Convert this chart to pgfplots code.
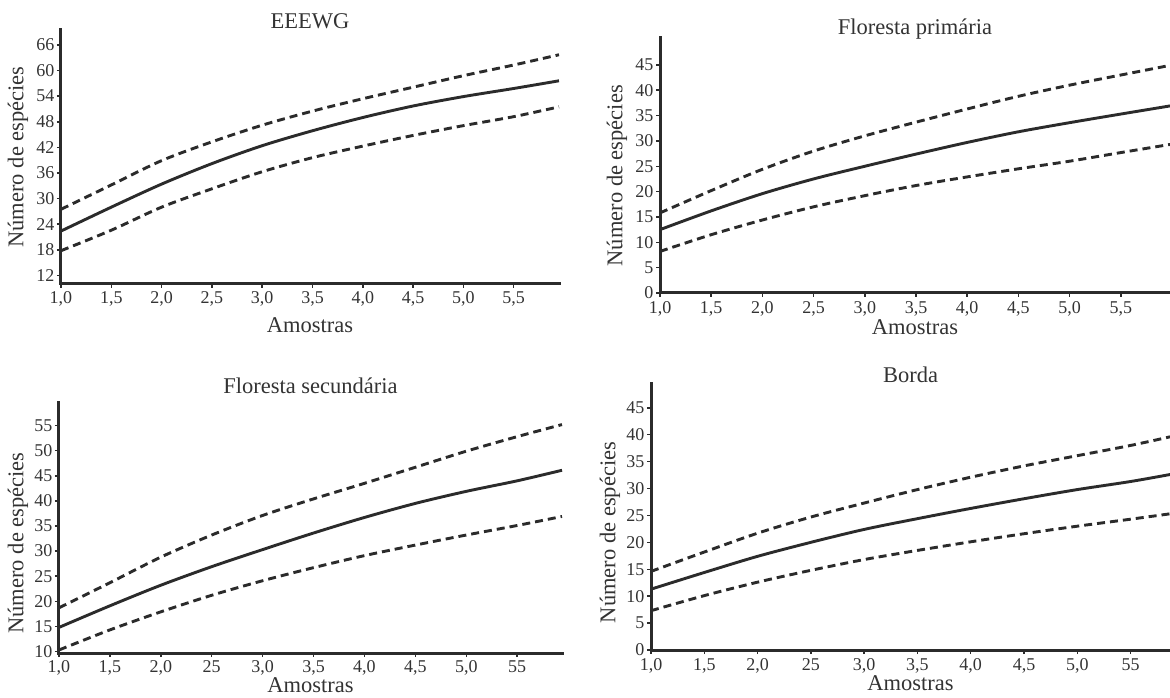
\documentclass[border=0pt]{standalone}
\usepackage{pgfplots}
\pgfplotsset{compat=1.18}
\usepackage{fontspec}
\setmainfont{Liberation Serif}
\definecolor{ink}{HTML}{2B2B2B}
\definecolor{txt}{HTML}{333333}
\newcommand{\lblfont}{\fontsize{22.5}{25}\selectfont}
\pgfplotsset{
  panel/.style={
    scale only axis, clip=false,
    axis lines=left,
    axis line style={-, line width=3pt, ink, line cap=rect},
    tick style={line width=1.5pt, ink},
    major tick length=4pt,
    tick align=outside,
    xmin=1,
    xtick={1,1.5,2,2.5,3,3.5,4,4.5,5,5.5},
    /pgf/number format/assume math mode=true,
    ticklabel style={font=\fontsize{18}{19}\selectfont, text=txt},
    yticklabel style={xshift=1pt},
    every axis title shift=0pt,
    xlabel={Amostras},
    ylabel={Número de espécies},
  },
  solidc/.style={ink, line width=2.9pt, smooth},
  dashc/.style={ink, line width=2.9pt, smooth, dash pattern=on 8pt off 5pt},
}
\begin{document}
\begin{tikzpicture}
\useasboundingbox (0,0) rectangle (1170pt,697pt);
% Panel 1: EEEWG
\begin{axis}[panel,
  at={(61pt,413pt)}, anchor=south west,
  width=498pt, height=254pt,
  xmax=5.95, ymin=10, ymax=69.5,
  ytick={12,18,24,30,36,42,48,54,60,66},
  xticklabels={{1,0},{1,5},{2,0},{2,5},{3,0},{3,5},{4,0},{4,5},{5,0},{5,5}},
  title={EEEWG},
  every axis title/.style={at={(rel axis cs:0.5,1)}, anchor=base, yshift=1pt, font=\lblfont, text=txt},
  every axis x label/.style={at={(rel axis cs:0.5,0)}, anchor=center, yshift=-41pt, font=\lblfont, text=txt},
  every axis y label/.style={at={(rel axis cs:0,0.5)}, xshift=-43pt, rotate=90, anchor=center, font=\lblfont, text=txt},
]
\addplot[dashc] coordinates {(1,27.5)(1.5,33.2)(2,38.9)(2.5,43.3)(3,47.2)(3.5,50.5)(4,53.4)(4.5,56.1)(5,58.8)(5.5,61.3)(5.95,63.7)};
\addplot[solidc] coordinates {(1,22.4)(1.5,28.0)(2,33.4)(2.5,38.2)(3,42.4)(3.5,45.9)(4,49.0)(4.5,51.7)(5,53.9)(5.5,55.8)(5.95,57.6)};
\addplot[dashc] coordinates {(1,17.8)(1.5,22.6)(2,28.0)(2.5,32.3)(3,36.3)(3.5,39.6)(4,42.3)(4.5,44.8)(5,47.1)(5.5,49.2)(5.95,51.5)};
\end{axis}
% Panel 2: Floresta primaria
\begin{axis}[panel,
  at={(660pt,404pt)}, anchor=south west,
  width=510pt, height=255pt,
  xmax=5.98, ymin=0, ymax=50.3,
  ytick={0,5,10,15,20,25,30,35,40,45},
  xticklabels={{1,0},{1,5},{2,0},{2,5},{3,0},{3,5},{4,0},{4,5},{5,0},{5,5}},
  xticklabel style={yshift=-1pt},
  title={Floresta primária},
  every axis title/.style={at={(rel axis cs:0.5,1)}, anchor=base, yshift=3pt, font=\lblfont, text=txt},
  every axis x label/.style={at={(rel axis cs:0.5,0)}, anchor=center, yshift=-34pt, font=\lblfont, text=txt},
  every axis y label/.style={at={(rel axis cs:0,0.46)}, xshift=-43pt, rotate=90, anchor=center, font=\lblfont, text=txt},
]
\addplot[dashc] coordinates {(1,15.8)(1.5,20.2)(2,24.4)(2.5,28.0)(3,31.0)(3.5,33.7)(4,36.3)(4.5,38.8)(5,41.0)(5.5,43.0)(5.98,44.9)};
\addplot[solidc] coordinates {(1,12.5)(1.5,16.2)(2,19.6)(2.5,22.5)(3,25.0)(3.5,27.4)(4,29.7)(4.5,31.8)(5,33.6)(5.5,35.3)(5.98,36.9)};
\addplot[dashc] coordinates {(1,8.2)(1.5,11.5)(2,14.4)(2.5,17.0)(3,19.2)(3.5,21.2)(4,22.9)(4.5,24.5)(5,26.0)(5.5,27.7)(5.98,29.3)};
\end{axis}
% Panel 3: Floresta secundaria
\begin{axis}[panel,
  at={(59pt,44pt)}, anchor=south west,
  width=503pt, height=250pt,
  xmax=5.94, ymin=9.7, ymax=59.5,
  ytick={10,15,20,25,30,35,40,45,50,55},
  xticklabels={{1,0},{1,5},{2,0},{25},{3,0},{3,5},{4,0},{4,5},{5,0},{55}},
  title={Floresta secundária},
  every axis title/.style={at={(rel axis cs:0.5,1)}, anchor=base, yshift=9pt, font=\lblfont, text=txt},
  every axis x label/.style={at={(rel axis cs:0.5,0)}, anchor=center, yshift=-32pt, font=\lblfont, text=txt},
  every axis y label/.style={at={(rel axis cs:0,0.44)}, xshift=-41pt, rotate=90, anchor=center, font=\lblfont, text=txt},
]
\addplot[dashc] coordinates {(1,18.7)(1.5,23.7)(2,28.8)(2.5,33.2)(3,37.1)(3.5,40.4)(4,43.5)(4.5,46.7)(5,49.9)(5.5,52.8)(5.94,55.2)};
\addplot[solidc] coordinates {(1,14.8)(1.5,19.1)(2,23.2)(2.5,26.9)(3,30.3)(3.5,33.6)(4,36.7)(4.5,39.5)(5,41.9)(5.5,44.0)(5.94,46.1)};
\addplot[dashc] coordinates {(1,10.3)(1.5,14.3)(2,17.9)(2.5,21.2)(3,24.1)(3.5,26.7)(4,29.1)(4.5,31.2)(5,33.2)(5.5,35.1)(5.94,36.9)};
\end{axis}
% Panel 4: Borda
\begin{axis}[panel,
  at={(651pt,47pt)}, anchor=south west,
  width=519pt, height=267pt,
  xmax=5.87, ymin=0, ymax=49.6,
  ytick={0,5,10,15,20,25,30,35,40,45},
  xticklabels={{1,0},{1,5},{2,0},{25},{3,0},{3,5},{4,0},{4,5},{5,0},{55}},
  xticklabel style={yshift=-1pt},
  title={Borda},
  every axis title/.style={at={(rel axis cs:0.5,1)}, anchor=base, yshift=1pt, font=\lblfont, text=txt},
  every axis x label/.style={at={(rel axis cs:0.5,0)}, anchor=center, yshift=-33pt, font=\lblfont, text=txt},
  every axis y label/.style={at={(rel axis cs:0,0.44)}, xshift=-41pt, rotate=90, anchor=center, font=\lblfont, text=txt},
]
\addplot[dashc] coordinates {(1,14.6)(1.5,18.2)(2,21.7)(2.5,24.7)(3,27.3)(3.5,29.8)(4,32.1)(4.5,34.2)(5,36.1)(5.5,38.0)(5.87,39.6)};
\addplot[solidc] coordinates {(1,11.3)(1.5,14.4)(2,17.4)(2.5,20.0)(3,22.4)(3.5,24.4)(4,26.3)(4.5,28.1)(5,29.8)(5.5,31.3)(5.87,32.6)};
\addplot[dashc] coordinates {(1,7.3)(1.5,10.1)(2,12.6)(2.5,14.8)(3,16.8)(3.5,18.5)(4,20.1)(4.5,21.6)(5,23.0)(5.5,24.3)(5.87,25.3)};
\end{axis}
\end{tikzpicture}
\end{document}
